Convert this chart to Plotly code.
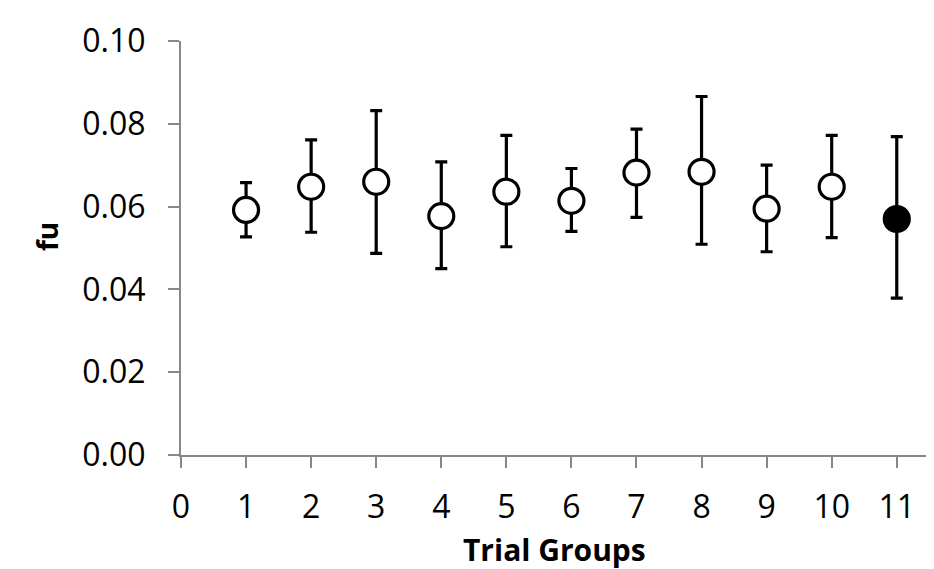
import plotly.graph_objects as go

groups = [1, 2, 3, 4, 5, 6, 7, 8, 9, 10, 11]
fu_mean = [0.0592, 0.0648, 0.0660, 0.0577, 0.0636, 0.0614, 0.0682, 0.0684, 0.0595, 0.0648, 0.0570]
fu_upper = [0.0658, 0.0761, 0.0832, 0.0708, 0.0772, 0.0692, 0.0787, 0.0866, 0.0700, 0.0772, 0.0769]
fu_lower = [0.0527, 0.0538, 0.0487, 0.0450, 0.0503, 0.0540, 0.0574, 0.0509, 0.0491, 0.0525, 0.0379]
fill_colors = ["white"] * 10 + ["black"]

x_ticks = list(range(0, 12))
y_ticks = [0.00, 0.02, 0.04, 0.06, 0.08, 0.10]

err_plus = [u - m for u, m in zip(fu_upper, fu_mean)]
err_minus = [m - l for m, l in zip(fu_mean, fu_lower)]

fig = go.Figure()
fig.add_trace(go.Scatter(
    x=groups, y=fu_mean, mode="markers",
    marker=dict(size=25, color=fill_colors, line=dict(color="black", width=3.2)),
    error_y=dict(type="data", symmetric=False, array=err_plus, arrayminus=err_minus,
                 color="black", thickness=3.2, width=6),
    showlegend=False, cliponaxis=False,
))

font_family = "Open Sans, Noto Sans, sans-serif"
# page body has an 8px default margin, so the figure is sized to fit the window
fig.update_layout(
    width=926, height=561,
    margin=dict(l=173, r=6, t=33, b=114),
    paper_bgcolor="white", plot_bgcolor="white",
    font=dict(family=font_family, color="black"),
    annotations=[
        dict(text="<b>fu</b>", textangle=-90, showarrow=False,
             xref="paper", yref="paper", x=0, y=0.5, xanchor="center", yanchor="middle",
             xshift=-134, yshift=11, font=dict(size=28, family=font_family, color="black")),
        dict(text="<b>Trial Groups</b>", showarrow=False,
             xref="paper", yref="paper", x=0.5, y=0, xanchor="center", yanchor="middle",
             yshift=-94, font=dict(size=30, family=font_family, color="black")),
    ],
)
fig.update_xaxes(
    range=[0, 11.48], tickvals=x_ticks, ticktext=[str(v) for v in x_ticks],
    showgrid=False, zeroline=False, showline=True, linecolor="#878787", linewidth=2,
    ticks="outside", ticklen=11, tickwidth=2, tickcolor="#878787",
    tickfont=dict(size=32, family=font_family), ticklabelstandoff=12,
    automargin=False,
)
fig.update_yaxes(
    range=[0, 0.1], tickvals=y_ticks, ticktext=[f"{v:.2f}" for v in y_ticks],
    showgrid=False, zeroline=False, showline=True, linecolor="#878787", linewidth=2,
    ticks="outside", ticklen=11, tickwidth=2, tickcolor="#878787",
    tickfont=dict(size=32, family=font_family), ticklabelstandoff=16,
    automargin=False,
)

fig.write_html("out.html")
